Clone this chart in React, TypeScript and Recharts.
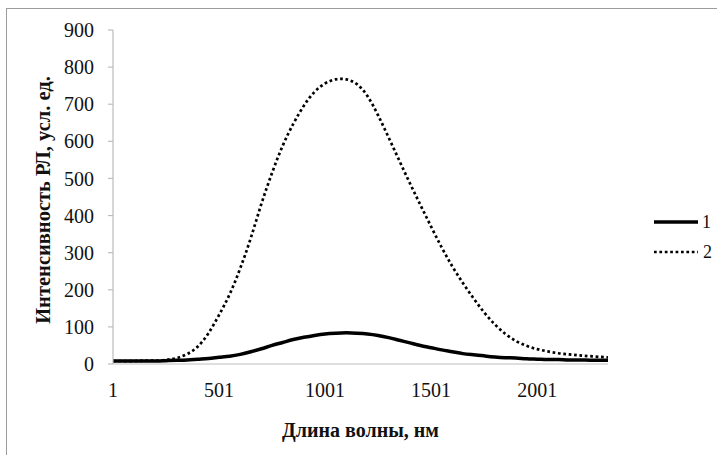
import React from "react";
import { LineChart, Line, XAxis, YAxis } from "recharts";

const wavelengths = [
  1, 51, 101, 151, 201, 251, 301, 351, 401, 451, 501, 551, 601, 651, 701, 751, 801, 851, 901, 951,
  1001, 1051, 1101, 1151, 1201, 1251, 1301, 1351, 1401, 1451, 1501, 1551, 1601, 1651, 1701, 1751,
  1801, 1851, 1901, 1951, 2001, 2051, 2101, 2151, 2201, 2251, 2301, 2335,
];

const series1 = [
  8, 8, 8, 8, 8, 9, 10, 11, 13, 15, 18, 21, 26, 33, 41, 50, 58, 66, 72, 77,
  81, 83, 84, 83, 81, 77, 71, 64, 57, 50, 44, 38, 33, 28, 25, 22,
  19, 17, 16, 14, 13, 12, 12, 11, 11, 10, 10, 10,
];

const series2 = [
  8, 8, 8, 9, 9, 11, 16, 27, 47, 83, 132, 188, 258, 340, 432, 515, 588, 647, 696, 733,
  756, 767, 767, 754, 722, 670, 610, 548, 487, 428, 370, 314, 263, 218, 177, 139,
  107, 81, 62, 49, 40, 34, 29, 26, 23, 21, 19, 18,
];

const xTicks = [1, 501, 1001, 1501, 2001];
const yTicks = [0, 100, 200, 300, 400, 500, 600, 700, 800, 900];
const seriesNames = ["1", "2"];

const data = wavelengths.map((w, i) => ({ w, s1: series1[i], s2: series2[i] }));

const FONT = "Liberation Serif, Times New Roman, Times, serif";
const TEXT = "#111";
const AXIS = "#bdbdbd";

export default function App() {
  return (
    <div
      style={{
        position: "absolute",
        left: 0,
        top: 0,
        width: 717,
        height: 455,
        overflow: "hidden",
        background: "#fff",
        fontFamily: FONT,
      }}
    >
      <div
        style={{
          position: "absolute",
          left: 6,
          top: 8,
          width: 740,
          height: 480,
          border: "1.5px solid #9c9c9c",
        }}
      />
      <div style={{ position: "absolute", left: 0, top: 0 }}>
        <LineChart
          width={717}
          height={455}
          data={data}
          margin={{ top: 30, right: 109, left: 0, bottom: 16 }}
          style={{ fontFamily: FONT }}
        >
          <XAxis
            dataKey="w"
            type="number"
            domain={[1, 2335]}
            ticks={xTicks}
            interval={0}
            height={75}
            tickLine={false}
            axisLine={{ stroke: AXIS, strokeWidth: 1.2 }}
            tick={{ fill: TEXT, fontSize: 20, style: { fontFamily: FONT } }}
            tickMargin={13}
            label={{
              value: "Длина волны, нм",
              position: "insideBottom",
              offset: 2,
              style: { fill: TEXT, fontSize: 20, fontWeight: 700, fontFamily: FONT },
            }}
          />
          <YAxis
            type="number"
            domain={[0, 900]}
            ticks={yTicks}
            interval={0}
            width={113}
            tickSize={5}
            tickMargin={14}
            tickLine={{ stroke: AXIS, strokeWidth: 1.2 }}
            axisLine={{ stroke: AXIS, strokeWidth: 1.2 }}
            tick={{ fill: TEXT, fontSize: 20, style: { fontFamily: FONT } }}
            label={{
              value: "Интенсивность РЛ, усл. ед.",
              angle: -90,
              position: "insideLeft",
              offset: 0,
              content: (props: any) => {
                const vb = props.viewBox || { x: 0, y: 30, width: 113, height: 334 };
                const cx = 43;
                const cy = vb.y + vb.height / 2 + 3;
                return (
                  <text
                    x={cx}
                    y={cy}
                    transform={`rotate(-90, ${cx}, ${cy})`}
                    textAnchor="middle"
                    dominantBaseline="central"
                    fill={TEXT}
                    fontSize={20.5}
                    fontWeight={700}
                    style={{ fontFamily: FONT }}
                  >
                    Интенсивность РЛ, усл. ед.
                  </text>
                );
              },
            }}
          />
          <Line
            dataKey="s1"
            name={seriesNames[0]}
            type="natural"
            stroke="#000"
            strokeWidth={3.5}
            dot={false}
            activeDot={false}
            isAnimationActive={false}
          />
          <Line
            dataKey="s2"
            name={seriesNames[1]}
            type="natural"
            stroke="#000"
            strokeWidth={2.7}
            strokeDasharray="2.7 2.7"
            dot={false}
            activeDot={false}
            isAnimationActive={false}
          />
        </LineChart>
      </div>
      <div style={{ position: "absolute", left: 652, top: 210 }}>
        <svg width={65} height={55}>
          <line x1={2} y1={12} x2={46} y2={12} stroke="#000" strokeWidth={3.5} />
          <text x={50} y={18} fontSize={18} style={{ fontFamily: FONT }} fill={TEXT}>
            {seriesNames[0]}
          </text>
          <line
            x1={2}
            y1={42}
            x2={46}
            y2={42}
            stroke="#000"
            strokeWidth={2.7}
            strokeDasharray="2.7 2.7"
          />
          <text x={51} y={48} fontSize={18} style={{ fontFamily: FONT }} fill={TEXT}>
            {seriesNames[1]}
          </text>
        </svg>
      </div>
    </div>
  );
}
